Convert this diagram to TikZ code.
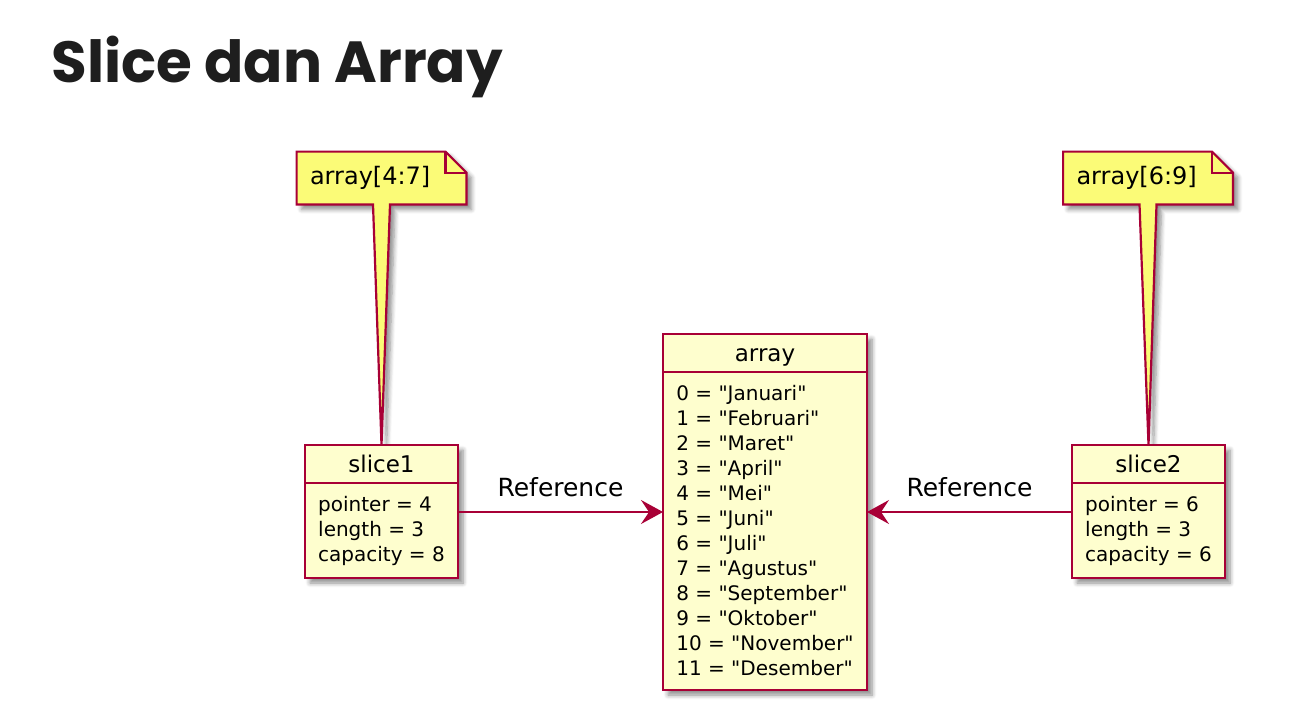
\documentclass[tikz,border=0pt]{standalone}
\usepackage{fontspec}
\setmainfont{DejaVu Sans}[Ligatures=TeXOff]
\newfontfamily\titlefont{Poppins}
\usetikzlibrary{arrows.meta,backgrounds,positioning,shadows.blur}
\definecolor{umlred}{HTML}{A80036}
\definecolor{classfill}{HTML}{FEFECE}
\definecolor{notefill}{HTML}{FBFB77}
\definecolor{titlegray}{HTML}{1E1E1E}

\begin{document}
\begin{tikzpicture}[
  x=0.5pt, y=-0.5pt,
  >=Stealth,
  ref/.style={-{Stealth[length=11pt, width=12pt, inset=4pt]}, line width=0.8pt, draw=umlred},
  umlshadow/.style={blur shadow={shadow xshift=2.5pt, shadow yshift=-2.5pt,
                    shadow blur steps=6, shadow opacity=45}},
  classhead/.style={draw=umlred, line width=1.35pt, fill=classfill, outer sep=0pt,
                    inner sep=0pt, minimum height=19pt, text height=8.5pt, text depth=0pt,
                    font=\fontsize{11.5}{14}\selectfont},
  classbody/.style={draw=umlred, line width=1.35pt, fill=classfill, outer sep=0pt,
                    inner sep=0pt, align=left, font=\fontsize{10}{12.5}\selectfont},
  classshadow/.style={fill=classfill, umlshadow},
  notebox/.style={inner xsep=6.5pt, inner ysep=0pt, minimum height=26pt,
                  text width=71.5pt, align=left, font=\fontsize{12}{14}\selectfont},
  noteshape/.style={draw=umlred, line width=1.1pt, fill=notefill, umlshadow},
  reflabel/.style={inner sep=0pt, font=\fontsize{12.5}{15}\selectfont},
  title/.style={anchor=base west, inner sep=0pt, text=titlegray,
                font=\titlefont\bfseries\fontsize{29}{34}\selectfont}
]
\useasboundingbox (0,0) rectangle (1304,717);

\node[title] (title) at (51,83) {Slice dan Array};

% The backing array
\node[classhead, minimum width=102pt] (arrayhead) at (765,353) {array};
\node[classbody, below=0pt of arrayhead, minimum width=102pt, minimum height=159pt] (arraybody)
  {0 = "Januari"\\1 = "Februari"\\2 = "Maret"\\3 = "April"\\4 = "Mei"\\5 = "Juni"\\
   6 = "Juli"\\7 = "Agustus"\\8 = "September"\\9 = "Oktober"\\10 = "November"\\
   11 = "Desember"};

% The two slices
\node[classhead, minimum width=76.5pt] (slice1head) at (381.5,464) {slice1};
\node[classbody, below=0pt of slice1head, minimum width=76.5pt, minimum height=47.5pt] (slice1body)
  {pointer = 4\\length = 3\\capacity = 8};

\node[classhead, minimum width=76.5pt] (slice2head) at (1148.5,464) {slice2};
\node[classbody, below=0pt of slice2head, minimum width=76.5pt, minimum height=47.5pt] (slice2body)
  {pointer = 6\\length = 3\\capacity = 6};

% Notes with their tails
\node[notebox] (note1) at (381.5,178) {array[4:7]};
\node[notebox] (note2) at (1148,178) {array[6:9]};

\begin{scope}[on background layer]
  % one shadow per class box
  \path[classshadow] (arrayhead.north west) rectangle (arraybody.south east);
  \path[classshadow] (slice1head.north west) rectangle (slice1body.south east);
  \path[classshadow] (slice2head.north west) rectangle (slice2body.south east);

  \path[noteshape] (note1.north west) -- ([xshift=-10.5pt]note1.north east)
    -- ([yshift=-10.5pt]note1.north east) -- (note1.south east)
    -- ([xshift=4.25pt]note1.south) -- (slice1head.north)
    -- ([xshift=-4.25pt]note1.south) -- (note1.south west) -- cycle;
  \draw[umlred, line width=1.1pt] ([xshift=-10.5pt]note1.north east)
    -- ([xshift=-10.5pt, yshift=-10.5pt]note1.north east) -- ([yshift=-10.5pt]note1.north east);
  \path[noteshape] (note2.north west) -- ([xshift=-10.5pt]note2.north east)
    -- ([yshift=-10.5pt]note2.north east) -- (note2.south east)
    -- ([xshift=4.25pt]note2.south) -- (slice2head.north)
    -- ([xshift=-4.25pt]note2.south) -- (note2.south west) -- cycle;
  \draw[umlred, line width=1.1pt] ([xshift=-10.5pt]note2.north east)
    -- ([xshift=-10.5pt, yshift=-10.5pt]note2.north east) -- ([yshift=-10.5pt]note2.north east);
\end{scope}

% References into the array
\draw[ref] ([yshift=9.25pt]slice1body.east) --
  node[midway, above=7pt, reflabel] {Reference}
  ([yshift=9.25pt]slice1body.east -| arraybody.west);
\draw[ref] ([yshift=9.25pt]slice2body.west) --
  node[midway, above=7pt, reflabel] {Reference}
  ([yshift=9.25pt]slice2body.west -| arraybody.east);

\end{tikzpicture}
\end{document}
